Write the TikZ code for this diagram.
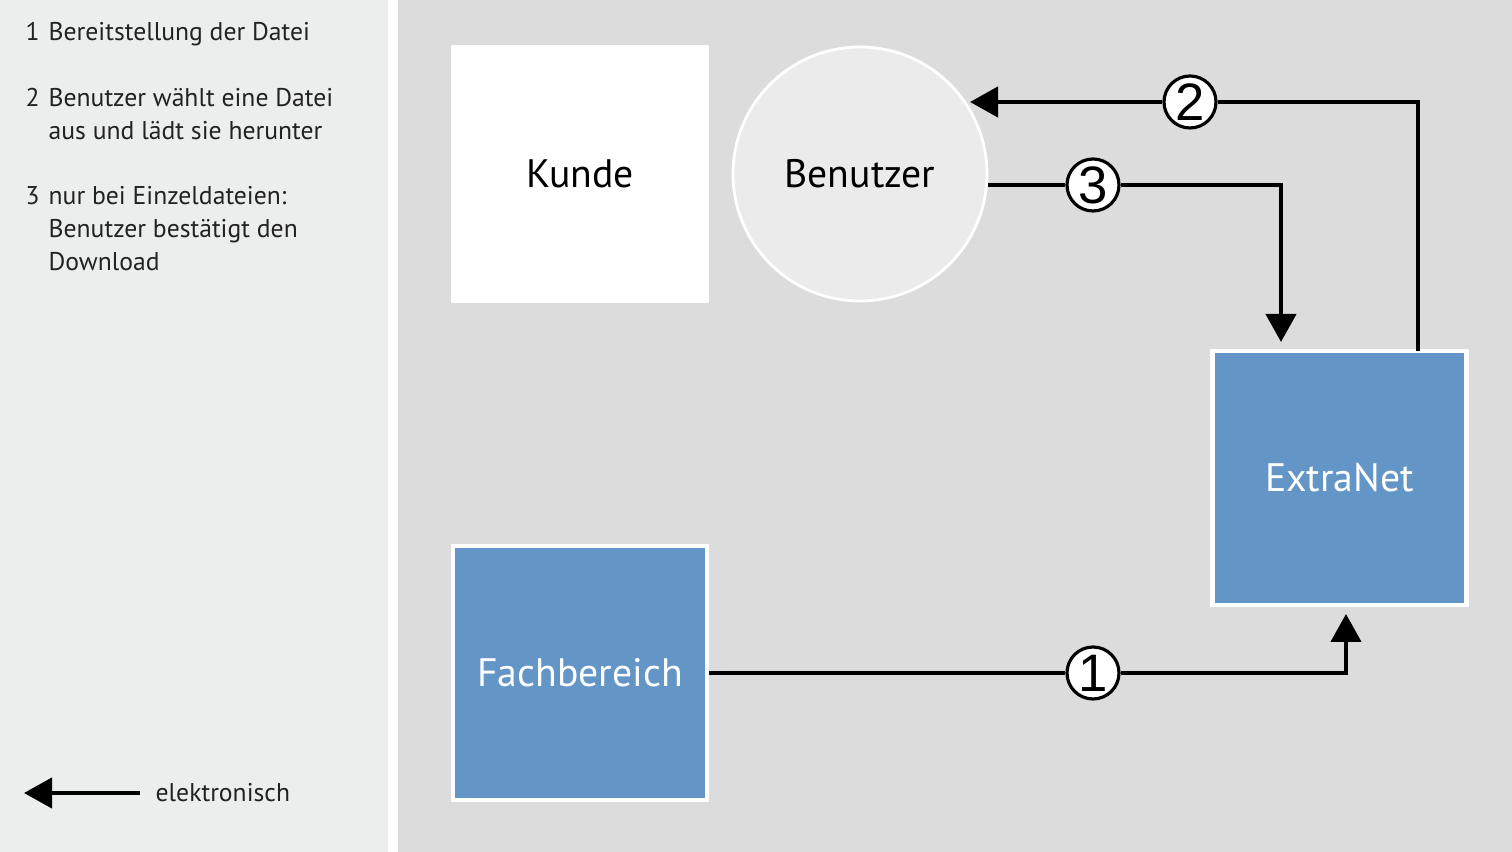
\documentclass[tikz,border=0pt]{standalone}
\usepackage{fontspec}
\setmainfont{PT Sans}
\newfontfamily\digitfont{Liberation Sans}
\usepackage{xcolor}
\usetikzlibrary{arrows.meta,positioning,calc}

\definecolor{leftbg}{RGB}{236,237,237}
\definecolor{rightbg}{RGB}{220,220,220}
\definecolor{userfill}{RGB}{235,235,235}
\definecolor{fhblue}{RGB}{100,149,199}
\definecolor{legendtext}{RGB}{34,34,34}

\begin{document}
\begin{tikzpicture}[
  entity/.style={rectangle, draw=white, line width=1.2pt, minimum width=2.54cm, minimum height=2.54cm, inner sep=0pt, font=\fontsize{11.3}{13}\selectfont},
  blue/.style={entity, fill=fhblue, text=white},
  person/.style={circle, draw=white, line width=0.8pt, fill=userfill, minimum size=2.54cm, inner sep=0pt, font=\fontsize{11.3}{13}\selectfont},
  numcirc/.style={circle, draw, fill=white, line width=0.9pt, minimum size=0.52cm, inner sep=0pt, font=\digitfont\fontsize{15}{15}\selectfont},
  item/.style={anchor=north west, inner sep=0pt, text=legendtext, font=\fontsize{7.3}{9.4}\selectfont},
  arr/.style={-{Triangle[length=0.28cm, width=0.3cm]}, line width=1.25pt}
]

% Background panels
\fill[leftbg] (0,0) rectangle (3.88,8.52);
\fill[white] (3.88,0) rectangle (3.98,8.52);
\fill[rightbg] (3.98,0) rectangle (15.12,8.52);
\useasboundingbox (0,0) rectangle (15.12,8.52);

% Legend
\node[item] (leg1) at (0.25,8.35) {\begin{tabular}[t]{@{}l@{\hspace{0.09cm}}l@{}}
  1 & Bereitstellung der Datei
\end{tabular}};
\node[item] (leg2) at (0.25,7.69) {\begin{tabular}[t]{@{}l@{\hspace{0.09cm}}l@{}}
  2 & Benutzer wählt eine Datei\\
    & aus und lädt sie herunter
\end{tabular}};
\node[item] (leg3) at (0.25,6.71) {\begin{tabular}[t]{@{}l@{\hspace{0.09cm}}l@{}}
  3 & nur bei Einzeldateien:\\
    & Benutzer bestätigt den\\
    & Download
\end{tabular}};

\coordinate (legstart) at (1.40,0.59);
\coordinate (legend) at (0.24,0.59);
\draw[arr] (legstart) -- (legend);
\node[item, anchor=west] (elek) at (1.55,0.59) {elektronisch};

% Parties
\node[entity, fill=white] (kunde) at (5.80,6.78) {Kunde};
\node[person] (benutzer) at (8.60,6.78) {Benutzer};
\node[blue] (extranet) at (13.395,3.74) {ExtraNet};
\node[blue] (fach) at (5.80,1.79) {Fachbereich};

% Step markers
\node[numcirc] (c1) at (10.93,1.79) {1};
\node[numcirc] (c2) at (11.90,7.50) {2};
\node[numcirc] (c3) at (10.93,6.67) {3};

% Connector ends
\coordinate (in1) at (13.46,2.38);
\coordinate (out2) at (14.18,5.01);
\coordinate (in2) at (9.70,7.50);
\coordinate (in3) at (12.81,5.10);

\draw[line width=1.25pt] (fach.east) -- (c1);
\draw[arr] (c1) -| (in1);
\draw[line width=1.25pt] (out2) |- (c2);
\draw[arr] (c2) -- (in2);
\draw[line width=1.25pt] (benutzer.east |- c3) -- (c3);
\draw[arr] (c3) -| (in3);

\end{tikzpicture}
\end{document}
